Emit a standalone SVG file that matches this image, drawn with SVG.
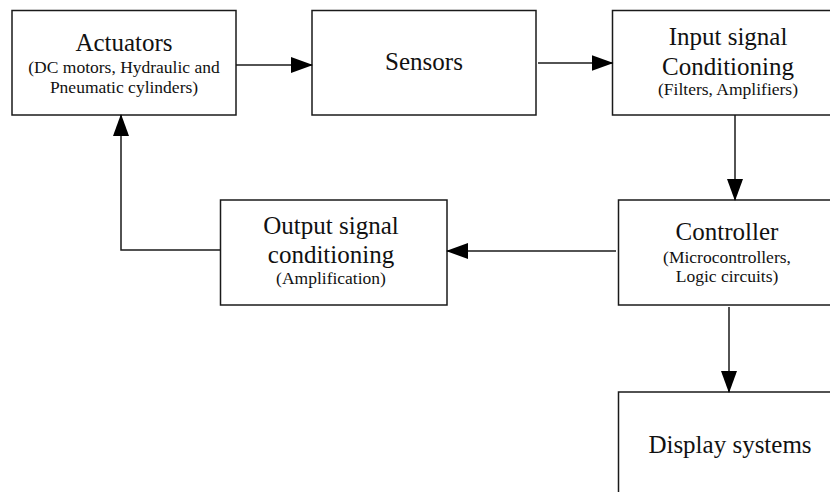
<svg xmlns="http://www.w3.org/2000/svg" width="830" height="492" viewBox="0 0 830 492">
<style>
.box{fill:#fff;stroke:#1a1a1a;stroke-width:1.5}
.t{font-family:"Liberation Serif","Times New Roman",serif;font-size:25px;fill:#111;text-anchor:middle}
.s{font-family:"Liberation Serif","Times New Roman",serif;font-size:17.5px;fill:#111;text-anchor:middle}
.c{fill:none;stroke:#1a1a1a;stroke-width:1.5}
</style>
<defs>
<marker id="ah" markerUnits="userSpaceOnUse" markerWidth="22" markerHeight="16" refX="21" refY="8" orient="auto">
<path d="M0,0 L22,8 L0,16 Z" fill="#000"/>
</marker>
</defs>
<rect width="830" height="492" fill="#fff"/>
<g id="actuators">
<rect class="box" x="12" y="10.5" width="224" height="104.5"/>
<text class="t" x="124" y="51">Actuators</text>
<text class="s" x="124" y="73">(DC motors, Hydraulic and</text>
<text class="s" x="124" y="93">Pneumatic cylinders)</text>
</g>
<g id="sensors">
<rect class="box" x="312" y="10.5" width="224" height="104.5"/>
<text class="t" x="424" y="70">Sensors</text>
</g>
<g id="input">
<rect class="box" x="612.5" y="10.5" width="230" height="104.5"/>
<text class="t" x="728" y="45">Input signal</text>
<text class="t" x="728" y="75">Conditioning</text>
<text class="s" x="728" y="95">(Filters, Amplifiers)</text>
</g>
<g id="output">
<rect class="box" x="220.5" y="200" width="226.5" height="105"/>
<text class="t" x="331" y="234">Output signal</text>
<text class="t" x="331" y="263">conditioning</text>
<text class="s" x="331" y="284">(Amplification)</text>
</g>
<g id="controller">
<rect class="box" x="618.5" y="200" width="224" height="105"/>
<text class="t" x="727" y="240">Controller</text>
<text class="s" x="727" y="263">(Microcontrollers,</text>
<text class="s" x="727" y="282">Logic circuits)</text>
</g>
<g id="display">
<rect class="box" x="618.5" y="392" width="224" height="110"/>
<text class="t" x="730" y="453">Display systems</text>
</g>
<g id="connectors">
<line class="c" x1="236" y1="65" x2="312" y2="65" marker-end="url(#ah)"/>
<line class="c" x1="538" y1="63" x2="612.5" y2="63" marker-end="url(#ah)"/>
<line class="c" x1="735" y1="115" x2="735" y2="200" marker-end="url(#ah)"/>
<line class="c" x1="616" y1="251" x2="447" y2="251" marker-end="url(#ah)"/>
<line class="c" x1="729" y1="307" x2="729" y2="392" marker-end="url(#ah)"/>
<polyline class="c" points="220.5,250 121,250 121,115" marker-end="url(#ah)"/>
</g>
</svg>
